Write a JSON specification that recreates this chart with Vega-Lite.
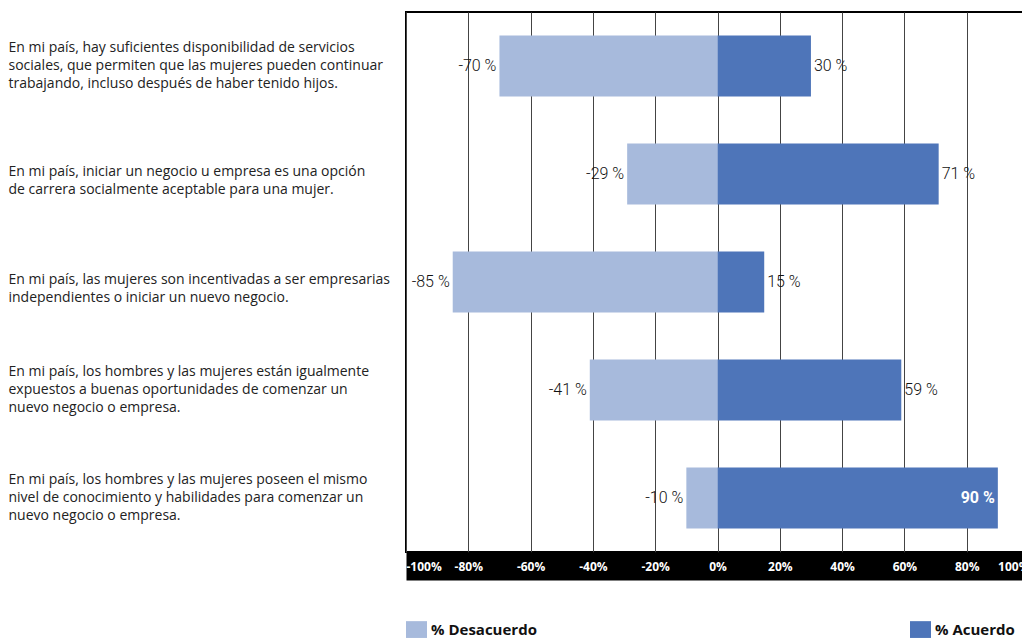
{
  "$schema": "https://vega.github.io/schema/vega-lite/v6.json",
  "width": 623,
  "height": 540,
  "autosize": {"type": "none"},
  "padding": {"left": 406, "top": 12, "right": 0, "bottom": 87},
  "background": "white",
  "config": {"view": {"stroke": "black", "strokeWidth": 2}, "font": "Open Sans"},
  "data": {
    "values": [
      {"q": "En mi país, hay suficientes disponibilidad de servicios\nsociales, que permiten que las mujeres pueden continuar\ntrabajando, incluso después de haber tenido hijos.", "tipo": "% Desacuerdo", "valor": -70, "etiqueta": "-70 %"},
      {"q": "En mi país, hay suficientes disponibilidad de servicios\nsociales, que permiten que las mujeres pueden continuar\ntrabajando, incluso después de haber tenido hijos.", "tipo": "% Acuerdo", "valor": 30, "etiqueta": "30 %"},
      {"q": "En mi país, iniciar un negocio u empresa es una opción\nde carrera socialmente aceptable para una mujer.", "tipo": "% Desacuerdo", "valor": -29, "etiqueta": "-29 %"},
      {"q": "En mi país, iniciar un negocio u empresa es una opción\nde carrera socialmente aceptable para una mujer.", "tipo": "% Acuerdo", "valor": 71, "etiqueta": "71 %"},
      {"q": "En mi país, las mujeres son incentivadas a ser empresarias\nindependientes o iniciar un nuevo negocio.", "tipo": "% Desacuerdo", "valor": -85, "etiqueta": "-85 %"},
      {"q": "En mi país, las mujeres son incentivadas a ser empresarias\nindependientes o iniciar un nuevo negocio.", "tipo": "% Acuerdo", "valor": 15, "etiqueta": "15 %"},
      {"q": "En mi país, los hombres y las mujeres están igualmente\nexpuestos a buenas oportunidades de comenzar un\nnuevo negocio o empresa.", "tipo": "% Desacuerdo", "valor": -41, "etiqueta": "-41 %"},
      {"q": "En mi país, los hombres y las mujeres están igualmente\nexpuestos a buenas oportunidades de comenzar un\nnuevo negocio o empresa.", "tipo": "% Acuerdo", "valor": 59, "etiqueta": "59 %"},
      {"q": "En mi país, los hombres y las mujeres poseen el mismo\nnivel de conocimiento y habilidades para comenzar un\nnuevo negocio o empresa.", "tipo": "% Desacuerdo", "valor": -10, "etiqueta": "-10 %"},
      {"q": "En mi país, los hombres y las mujeres poseen el mismo\nnivel de conocimiento y habilidades para comenzar un\nnuevo negocio o empresa.", "tipo": "% Acuerdo", "valor": 90, "etiqueta": "90 %"}
    ]
  },
  "encoding": {
    "y": {
      "field": "q", "type": "nominal", "sort": null,
      "scale": {"paddingInner": 0.435, "paddingOuter": 0.2175},
      "axis": {
        "title": null, "domain": false, "ticks": false, "tickSize": 0,
        "labelAlign": "left", "labelPadding": 398, "labelLimit": 0,
        "labelExpr": "split(datum.label, '\\n')",
        "labelFont": "Open Sans", "labelFontSize": 14, "labelColor": "#222",
        "labelBaseline": "middle", "labelLineHeight": 18, "grid": false,
        "labelOffset": {"condition": {"test": "length(split(datum.value, '\\n')) > 2", "value": -18}, "value": -2}
      }
    }
  },
  "layer": [
    {
      "mark": {"type": "bar"},
      "encoding": {
        "x": {
          "field": "valor", "type": "quantitative", "stack": null,
          "scale": {"domain": [-100, 100], "nice": false},
          "axis": {
            "title": null, "orient": "bottom", "offset": 14,
            "values": [-100, -80, -60, -40, -20, 0, 20, 40, 60, 80, 100],
            "labels": false, "domainWidth": 28, "domainColor": "black",
            "ticks": false, "tickSize": 0,
            "grid": true, "gridColor": "#444", "gridWidth": 1, "zindex": 0
          }
        },
        "color": {
          "field": "tipo", "type": "nominal",
          "scale": {"domain": ["% Desacuerdo", "% Acuerdo"], "range": ["#A7BADC", "#4E75B9"]},
          "legend": {
            "orient": "none", "legendX": 0, "legendY": 607, "direction": "horizontal", "title": null,
            "symbolType": "M-1,-0.8H1V0.8H-1Z", "symbolSize": 441, "symbolStrokeWidth": 0, "symbolOpacity": 1,
            "labelFont": "Open Sans", "labelFontWeight": "bold", "labelFontSize": 15, "labelColor": "#111",
            "labelOffset": 4, "columnPadding": 373, "labelLimit": 0
          }
        }
      }
    },
    {
      "transform": [{"filter": "datum.valor < 0"}],
      "mark": {"type": "text", "align": "right", "baseline": "middle", "dx": -3, "fontSize": 16, "fontWeight": 300, "font": "Roboto", "color": "#111"},
      "encoding": {
        "x": {
          "field": "valor", "type": "quantitative",
          "axis": {
            "title": null, "orient": "bottom", "offset": 14,
            "values": [-100, -80, -60, -40, -20, 0, 20, 40, 60, 80, 100],
            "labelExpr": "datum.value + '%'",
            "domain": false, "ticks": false, "tickSize": 0, "grid": false,
            "labelColor": "white", "labelFont": "Open Sans", "labelFontWeight": "bold", "labelFontSize": 12,
            "labelBaseline": "middle", "labelPadding": 0, "labelFlush": true, "labelOverlap": false, "zindex": 1
          }
        },
        "text": {"field": "etiqueta"}
      }
    },
    {
      "transform": [{"filter": "datum.valor > 0 && datum.valor < 85"}],
      "mark": {"type": "text", "align": "left", "baseline": "middle", "dx": 3, "fontSize": 16, "fontWeight": 300, "font": "Roboto", "color": "#111"},
      "encoding": {
        "x": {"field": "valor", "type": "quantitative", "axis": null},
        "text": {"field": "etiqueta"}
      }
    },
    {
      "transform": [{"filter": "datum.valor >= 85"}],
      "mark": {"type": "text", "align": "right", "baseline": "middle", "dx": -3, "fontSize": 16, "fontWeight": "bold", "font": "Roboto", "color": "white"},
      "encoding": {
        "x": {"field": "valor", "type": "quantitative", "axis": null},
        "text": {"field": "etiqueta"}
      }
    }
  ],
  "resolve": {"axis": {"x": "independent"}}
}
